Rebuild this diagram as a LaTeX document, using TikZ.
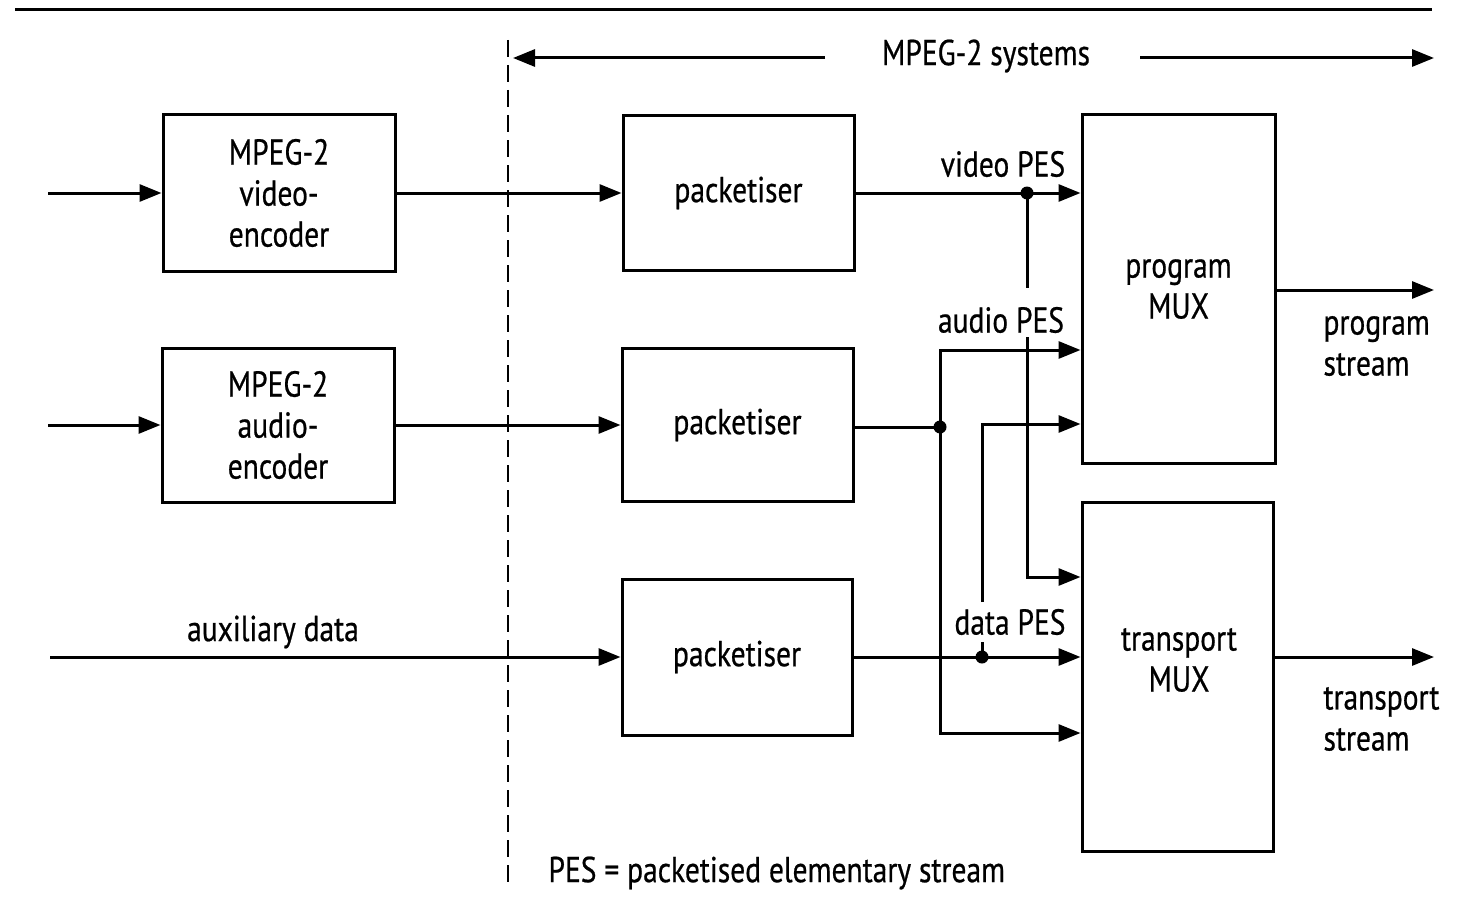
\documentclass[tikz,border=0pt]{standalone}
\usepackage{fontspec}
\setmainfont{PT Sans}[FakeStretch=0.82,FakeBold=0.6]
\usetikzlibrary{arrows.meta}
\begin{document}
\begin{tikzpicture}[x=1pt,y=-1pt,
  line width=3pt,
  every node/.style={font=\fontsize{36}{41}\selectfont},
  blk/.style={draw,rectangle,align=center,inner sep=0pt},
  arr/.style={-{Triangle[length=22pt,width=17pt]}},
  lbl/.style={inner sep=0pt,align=left},
  jdot/.style={circle,fill,inner sep=0pt,minimum size=13pt}]
\useasboundingbox (0,0) rectangle (1482,915);
% top rule
\draw[line width=3pt] (15,10) -- (1432,10);
% dashed separator
\draw[line width=2.5pt,dash pattern=on 17pt off 8pt] (508,40) -- (508,888);
% MPEG-2 systems span
\node[lbl] (sys) at (986,56) {MPEG-2 systems};
\coordinate (sysL) at (513,58);
\coordinate (sysR) at (1434,58);
\draw[arr] (825,58) -- (sysL);
\draw[arr] (1140,58) -- (sysR);
% blocks
\node[blk,minimum width=232pt,minimum height=156pt] (venc) at (279,193) {MPEG-2\\video-\\encoder};
\node[blk,minimum width=232pt,minimum height=154pt] (aenc) at (278,425) {MPEG-2\\audio-\\encoder};
\node[blk,minimum width=231pt,minimum height=155pt] (pk1) at (738.5,193) {packetiser};
\node[blk,minimum width=231pt,minimum height=153pt] (pk2) at (737.5,425) {packetiser};
\node[blk,minimum width=230pt,minimum height=156pt] (pk3) at (737,657) {packetiser};
\node[blk,minimum width=193pt,minimum height=348pt] (pmux) at (1178.5,289) {program\\MUX};
\node[blk,minimum width=191pt,minimum height=349pt] (tmux) at (1177.5,676.5) {};
\node[lbl,align=center] (tmuxlbl) at (1179,660) {transport\\MUX};
% inputs
\coordinate (vin) at (48,193);
\coordinate (ain) at (48,425);
\coordinate (din) at (50,657);
\draw[arr] (vin) -- (venc.west);
\draw[arr] (ain) -- (aenc.west);
\draw[arr] (din) -- (pk3.west);
\node[lbl] (aux) at (273,632) {auxiliary data};
% encoders to packetisers
\draw[arr] (venc.east) -- (pk1.west);
\draw[arr] (aenc.east) -- (pk2.west);
% video PES
\node[lbl] (vlbl) at (1003,164) {video PES};
\node[jdot] (vdot) at (1027,193) {};
\draw[arr] (pk1.east) -- (pk1.east -| pmux.west);
\draw (vdot.center) -- (1027,288);
\draw[arr] (1027,337) -- (1027,577) -- (1027,577 -| tmux.west);
% audio PES
\node[lbl] (albl) at (1001,320) {audio PES};
\node[jdot] (adot) at (940,427) {};
\draw (pk2.east |- adot) -- (adot.center);
\draw[arr] (adot.center) -- (940,350) -- (940,350 -| pmux.west);
\draw[arr] (adot.center) -- (940,733) -- (940,733 -| tmux.west);
% data PES
\node[lbl] (dlbl) at (1010,622) {data PES};
\node[jdot] (ddot) at (982,657) {};
\draw[arr] (pk3.east) -- (pk3.east -| tmux.west);
\draw (ddot.center) -- (982,642);
\draw[arr] (982,602) -- (982,424) -- (982,424 -| pmux.west);
% outputs
\coordinate (pout) at (1434,290);
\coordinate (tout) at (1434,657);
\draw[arr] (pmux.east |- pout) -- (pout);
\draw[arr] (tmux.east |- tout) -- (tout);
\node[lbl,anchor=west] (pslbl) at (1322,346) {program\\stream};
\node[lbl,anchor=west] (tslbl) at (1322,719) {transport\\stream};
% legend
\node[lbl,anchor=west] (legend) at (547,873) {PES = packetised elementary stream};
\end{tikzpicture}
\end{document}
